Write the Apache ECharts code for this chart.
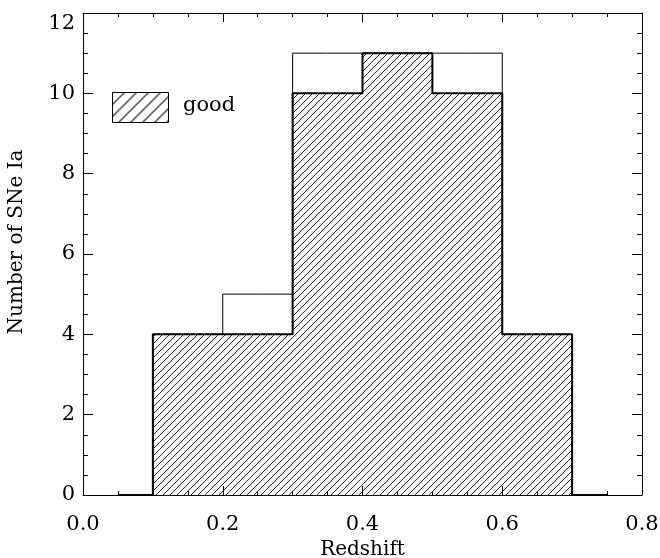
<!DOCTYPE html>
<html>
<head>
<meta charset="utf-8">
<script src="https://cdn.jsdelivr.net/npm/echarts@6/dist/echarts.min.js"></script>
<style>html,body{margin:0;padding:0;background:#fff}#c{width:660px;height:558px}</style>
</head>
<body>
<div id="c"></div>
<script>
// Data (histogram bin centers, IDL psym=10 style steps)
const binCenters = [0.05, 0.15, 0.25, 0.35, 0.45, 0.55, 0.65, 0.75];
const allCounts  = [0, 4, 5, 11, 11, 11, 4, 0];
const goodCounts = [0, 4, 4, 10, 11, 10, 4, 0];
const xTicks = ['0.0', '0.2', '0.4', '0.6', '0.8'];
const yTicks = ['0', '2', '4', '6', '8', '10', '12'];
const legendLabel = 'good';
const xTitle = 'Redshift';
const yTitle = 'Number of SNe Ia';

function hatch(size, color, lw) {
  const c = document.createElement('canvas');
  c.width = size; c.height = size;
  const g = c.getContext('2d');
  g.strokeStyle = color; g.lineWidth = lw;
  g.beginPath();
  g.moveTo(-1, size + 1); g.lineTo(size + 1, -1);
  g.moveTo(-1, 1); g.lineTo(1, -1);
  g.moveTo(size - 1, size + 1); g.lineTo(size + 1, size - 1);
  g.stroke();
  return c;
}
const pat = hatch(7, '#111', 0.9);
const patLegend = hatch(12, '#000', 1.1);

const FONT = 'DejaVu Serif';
const chart = echarts.init(document.getElementById('c'), null, {renderer: 'canvas'});

const allData = binCenters.map((x, i) => [x, allCounts[i]]);
const goodData = binCenters.map((x, i) => [x, goodCounts[i]]);

const axisLine = {show: true, onZero: false, lineStyle: {color: '#000', width: 1}};
const xCommon = {
  type: 'value', min: 0, max: 0.8, interval: 0.2,
  axisLine: axisLine,
  axisTick: {show: true, inside: true, length: 9, lineStyle: {color: '#000'}},
  minorTick: {show: true, splitNumber: 4, length: 4, lineStyle: {color: '#000'}},
  splitLine: {show: false}
};
const yCommon = {
  type: 'value', min: 0, max: 12, interval: 2,
  axisLine: axisLine,
  axisTick: {show: true, inside: true, length: 10, lineStyle: {color: '#000'}},
  minorTick: {show: true, splitNumber: 4, length: 5, lineStyle: {color: '#000'}},
  splitLine: {show: false}
};

chart.setOption({
  animation: false,
  backgroundColor: '#fff',
  grid: {left: 83, right: 18, top: 13, bottom: 63, containLabel: false, outerBoundsMode: 'none'},
  xAxis: [
    Object.assign({}, xCommon, {
      position: 'bottom',
      name: xTitle, nameLocation: 'middle', nameGap: 43,
      nameTextStyle: {fontFamily: FONT, fontSize: 20, color: '#000'},
      axisLabel: {show: true, margin: 19, fontFamily: FONT, fontSize: 21, color: '#000',
        formatter: v => xTicks[Math.round(v / 0.2)] || ''}
    }),
    Object.assign({}, xCommon, {position: 'top', axisLabel: {show: false}})
  ],
  yAxis: [
    Object.assign({}, yCommon, {
      position: 'left',
      name: yTitle, nameLocation: 'middle', nameGap: 56,
      nameTextStyle: {fontFamily: FONT, fontSize: 20, color: '#000', padding: [0, 0, 0, 24]},
      axisLabel: {show: true, margin: 8, fontFamily: FONT, fontSize: 21, color: '#000',
        verticalAlignMaxLabel: 'top',
        formatter: v => yTicks[Math.round(v / 2)] || ''}
    }),
    Object.assign({}, yCommon, {position: 'right', axisLabel: {show: false}})
  ],
  series: [
    {
      name: 'all', type: 'line', step: 'middle', data: allData,
      xAxisIndex: 0, yAxisIndex: 0,
      symbol: 'none', lineStyle: {color: '#000', width: 1}, z: 2
    },
    {
      name: 'good', type: 'line', step: 'middle', data: goodData,
      xAxisIndex: 0, yAxisIndex: 0,
      symbol: 'none', lineStyle: {color: '#000', width: 2},
      areaStyle: {color: {image: pat, repeat: 'repeat'}, opacity: 1, origin: 'start'}, z: 3
    }
  ],
  graphic: [
    {type: 'rect', left: 112, top: 92, shape: {width: 56, height: 30},
     style: {fill: {image: patLegend, repeat: 'repeat'}, stroke: '#000', lineWidth: 1}},
    {type: 'text', left: 183, top: 95,
     style: {text: legendLabel, font: '21px "DejaVu Serif"', fill: '#000'}}
  ]
});
</script>
</body>
</html>
